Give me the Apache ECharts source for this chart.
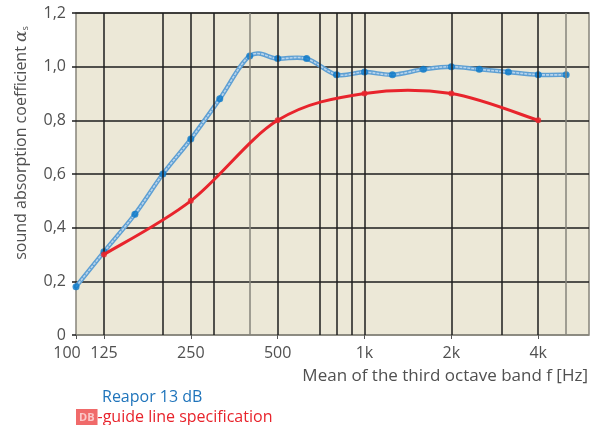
<!DOCTYPE html>
<html><head><meta charset="utf-8">
<script src="https://cdn.jsdelivr.net/npm/echarts@6/dist/echarts.min.js"></script>
<style>html,body{margin:0;padding:0;background:#fff}#c{width:606px;height:425px}</style>
</head><body><div id="c"></div>
<script>
// Data
const freqReapor = [100,125,160,200,250,315,400,500,630,800,1000,1250,1600,2000,2500,3150,4000,5000];
const alphaReapor = [0.18,0.31,0.45,0.60,0.73,0.88,1.04,1.03,1.03,0.97,0.98,0.97,0.99,1.00,0.99,0.98,0.97,0.97];
const freqGuide = [125,250,500,1000,2000,4000];
const alphaGuide = [0.30,0.50,0.80,0.90,0.90,0.80];
const xTickValues = [100,125,250,500,1000,2000,4000];
const xTickLabels = ['100','125','250','500','1k','2k','4k'];
const gridDark = [125,200,250,300,500,700,800,900,1000,2000,3000,4000];
const gridGrey = [400,5000];
const seriesNames = ['Reapor 13 dB','DB-guide line specification'];

const FONT = 'Open Sans';
const TXT = '#505050';
const chart = echarts.init(document.getElementById('c'), null, {renderer:'canvas'});
const pair = (xs, ys) => xs.map((x,i)=>[x, ys[i]]);
const gridLines = gridDark.map(v=>({xAxis:v, lineStyle:{color:'#1e1e1e'}}))
  .concat(gridGrey.map(v=>({xAxis:v, lineStyle:{color:'#86847b'}})));

// Catmull-Rom spline through the data, positioned with the chart's own axes (api.coord)
function splineRender(xs, ys, styles){
  return function(params, api){
    if (params.dataIndex !== 0) return null;
    const p = xs.map((x,i)=>api.coord([x, ys[i]]));
    const children = [];
    styles.forEach(function(st){
      for (let i=0;i<p.length-1;i++){
        const p0 = p[i-1]||p[i], p1 = p[i], p2 = p[i+1], p3 = p[i+2]||p[i+1];
        children.push({type:'bezierCurve', silent:true, shape:{
          x1:p1[0], y1:p1[1], x2:p2[0], y2:p2[1],
          cpx1:p1[0]+(p2[0]-p0[0])/6, cpy1:p1[1]+(p2[1]-p0[1])/6,
          cpx2:p2[0]-(p3[0]-p1[0])/6, cpy2:p2[1]-(p3[1]-p1[1])/6},
          style:Object.assign({fill:null, lineCap:'round'}, st)});
      }
    });
    return {type:'group', children:children};
  };
}

chart.setOption({
  animation:false,
  textStyle:{fontFamily:FONT},
  grid:{left:76,right:17,top:13,bottom:90,show:true,backgroundColor:'#ECE8D7',borderColor:'#86847b',borderWidth:1.5},
  xAxis:{
    type:'log', logBase:10, min:100, max:6000,
    axisLine:{show:false},
    splitLine:{show:false},
    minorTick:{show:false}, minorSplitLine:{show:false},
    axisTick:{show:true, customValues:xTickValues, length:4, lineStyle:{color:'#555'}},
    axisLabel:{customValues:xTickValues, margin:10, color:TXT, fontSize:16, fontFamily:FONT,
      formatter:function(v){ const i = xTickValues.indexOf(Math.round(v)); const t = i>=0?xTickLabels[i]:String(v); return i===0?'{l|'+t+'}':t; },
      rich:{l:{padding:[0,18,0,0], color:TXT, fontSize:16, fontFamily:FONT}}},
    name:'Mean of the third octave band f [Hz]',
    nameLocation:'end', nameGap:-1,
    nameTextStyle:{align:'right', verticalAlign:'top', color:TXT, fontSize:17, fontFamily:FONT, padding:[33,0,0,0]}
  },
  yAxis:{
    type:'value', min:0, max:1.2, interval:0.2,
    axisLine:{show:false},
    axisTick:{show:true, length:4, lineStyle:{color:'#1e1e1e', width:1.5}},
    splitLine:{show:true, lineStyle:{color:['#86847b','#1e1e1e','#1e1e1e','#1e1e1e','#1e1e1e','#1e1e1e','#1e1e1e'], width:1.5}},
    axisLabel:{margin:10, color:TXT, fontSize:16, fontFamily:FONT,
      formatter:function(v){ return v===0?'0':v.toFixed(1).replace('.',','); }},
    name:'{t|sound absorption coefficient }{a|α}{s|s}',
    nameLocation:'middle', nameGap:46, nameRotate:90,
    nameTextStyle:{padding:[0,0,0,62], rich:{
      t:{fontSize:16, color:TXT, fontFamily:FONT},
      a:{fontSize:17, color:TXT, fontFamily:'DejaVu Serif', fontStyle:'italic'},
      s:{fontSize:9, color:TXT, fontFamily:FONT, padding:[8,0,0,0]}}}
  },
  legend:[
    {data:[{name:seriesNames[0], icon:'none', textStyle:{color:'#1f74bb'}}], left:92, top:384, itemWidth:0, itemGap:0,
     textStyle:{fontSize:16, fontFamily:FONT}, selectedMode:false},
    {data:[{name:seriesNames[1], icon:'none', textStyle:{color:'#e8242c'}}], left:66, top:404, itemWidth:0, itemGap:0,
     selectedMode:false,
     formatter:function(){ return '{d|DB}-guide line specification'; },
     textStyle:{fontSize:16, fontFamily:FONT, color:'#e8242c', rich:{d:{backgroundColor:'#f06a6a', color:'#fbc8c8', fontSize:11, fontWeight:'bold', padding:[3,3,2,3], fontFamily:FONT}}}}
  ],
  series:[
    {type:'line', name:'grid', data:[], silent:true, z:1,
     markLine:{silent:true, symbol:['none','none'], label:{show:false}, lineStyle:{type:'solid', width:1.5}, data:gridLines, animation:false}},
    {type:'custom', name:seriesNames[0], data:pair(freqReapor, alphaReapor), z:3, clip:false, silent:true,
     encode:{x:0, y:1},
     renderItem:splineRender(freqReapor, alphaReapor, [
       {stroke:'#5d9fd3', lineWidth:4.5},
       {stroke:'#b8d4ec', lineWidth:1.6, lineDash:[3,1], lineCap:'butt'}])},
    {type:'scatter', name:seriesNames[0]+' points', data:pair(freqReapor, alphaReapor), z:4,
     symbol:'circle', symbolSize:7, itemStyle:{color:'#0a78c8'}, silent:true},
    {type:'custom', name:seriesNames[1], data:pair(freqGuide, alphaGuide), z:5, clip:false, silent:true,
     encode:{x:0, y:1},
     renderItem:splineRender(freqGuide, alphaGuide, [{stroke:'#e8242c', lineWidth:3}])},
    {type:'scatter', name:seriesNames[1]+' points', data:pair(freqGuide, alphaGuide), z:6,
     symbol:'circle', symbolSize:6, itemStyle:{color:'#e8242c'}, silent:true}
  ]
});
</script></body></html>
